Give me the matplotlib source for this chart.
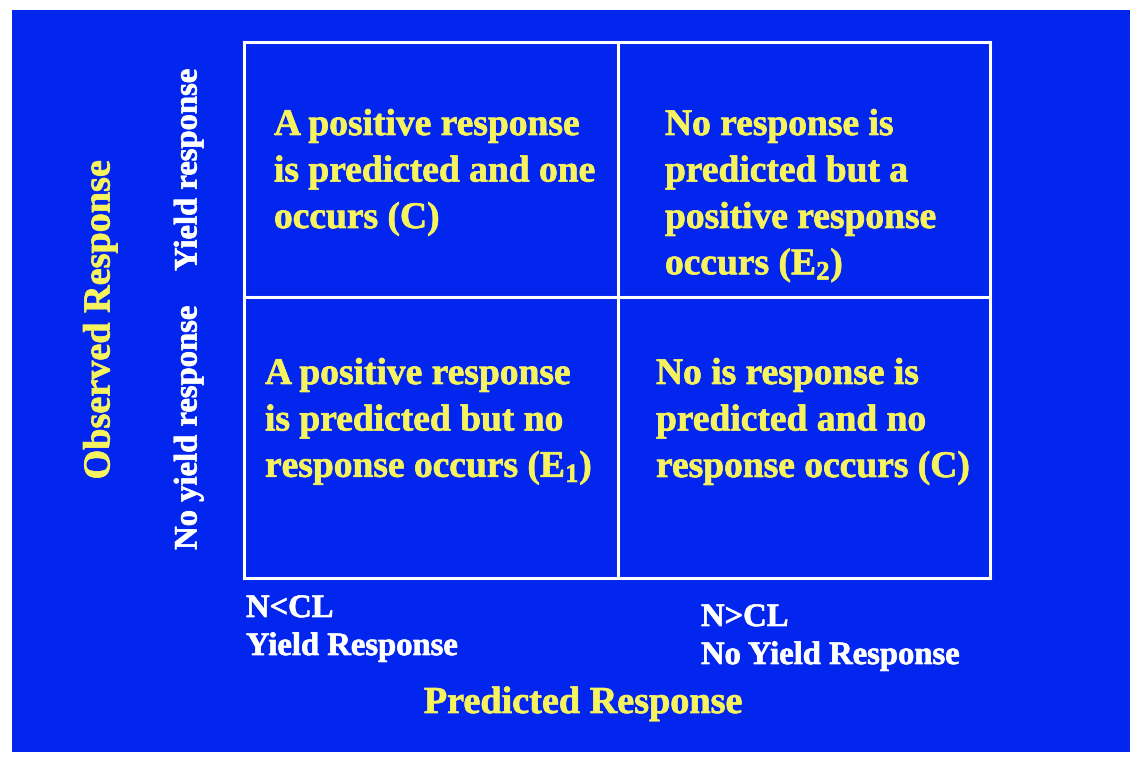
import matplotlib
matplotlib.use('Agg')
import matplotlib.pyplot as plt
import matplotlib.patheffects as pe
from matplotlib.patches import Rectangle

plt.rcParams['font.family'] = ['Liberation Serif', 'DejaVu Serif']
plt.rcParams['font.weight'] = 'bold'
plt.rcParams['mathtext.fontset'] = 'custom'
plt.rcParams['mathtext.rm'] = 'Liberation Serif:bold'
plt.rcParams['mathtext.bf'] = 'Liberation Serif:bold'
plt.rcParams['mathtext.it'] = 'Liberation Serif:bold:italic'

BLUE = '#0326EE'
YELLOW = '#F6F35E'

# cell texts, (column, row) with row 1 = top
cell_text = [
    'A positive response\nis predicted and one\noccurs (C)',
    'No response is\npredicted but a\npositive response\noccurs (E$_\\mathbf{2}$)',
    'A positive response\nis predicted but no\nresponse occurs (E$_\\mathbf{1}$)',
    'No is response is\npredicted and no\nresponse occurs (C)',
]

row_labels = ['No yield response', 'Yield response']
col_labels = ['N<CL\nYield Response', 'N>CL\nNo Yield Response']
x_title = 'Predicted Response'
y_title = 'Observed Response'

W, H = 1140, 762
L, R, T, B = 244, 990, 42, 578
MID_X, MID_Y = 618, 297

fig = plt.figure(figsize=(W/100, H/100), dpi=100)
fig.patch.set_facecolor('white')
bg = Rectangle((12/W, 10/H), 1118/W, 742/H, transform=fig.transFigure,
               facecolor=BLUE, edgecolor='none', zorder=-10)
fig.patches.append(bg)

ax = fig.add_axes([L/W, 1 - B/H, (R-L)/W, (B-T)/H])
ax.set_zorder(5)
ax.set_xlim(0, 1)
ax.set_ylim(0, 1)
ax.patch.set_alpha(0)
ax.set_xticks([])
ax.set_yticks([])
for s in ax.spines.values():
    s.set_color('white')
    s.set_linewidth(2.2)


def px(x, y):
    # pixel position in the picture -> axes fraction
    return (x - L) / (R - L), (B - y) / (B - T)


ax.axvline(px(MID_X, 0)[0], color='white', lw=2.2)
ax.axhline(px(0, MID_Y)[1], color='white', lw=2.2)

heavy = [pe.withStroke(linewidth=0.5, foreground=YELLOW)]
heavy_w = [pe.withStroke(linewidth=0.5, foreground='white')]

# left edge and first baseline of each cell text, in pixels
cell_x = [274, 665, 265, 656]
cell_y = [135, 135, 384, 384]
step = 46.5
for txt, x0, y0 in zip(cell_text, cell_x, cell_y):
    for k, line in enumerate(txt.split('\n')):
        ax.text(*px(x0, y0 + k * step), line, transform=ax.transAxes,
                color=YELLOW, fontsize=27, va='baseline', ha='left',
                path_effects=heavy)

row_y = [428, 170]
for lab, yc in zip(row_labels, row_y):
    ax.text(*px(188, yc), lab, transform=ax.transAxes, color='white',
            fontsize=23.5, rotation=90, va='center', ha='center',
            path_effects=heavy_w)

col_x = [246, 701]
col_y = [617, 626]
for lab, x0, y0 in zip(col_labels, col_x, col_y):
    for k, line in enumerate(lab.split('\n')):
        ax.text(*px(x0, y0 + k * 38), line, transform=ax.transAxes,
                color='white', fontsize=23.5, va='baseline', ha='left',
                path_effects=heavy_w)

ax.text(*px(583, 713), x_title, transform=ax.transAxes, color=YELLOW,
        fontsize=27.5, va='baseline', ha='center', path_effects=heavy)
ax.text(*px(100, 320), y_title, transform=ax.transAxes, color=YELLOW,
        fontsize=27.5, rotation=90, va='center', ha='center',
        path_effects=heavy)

fig.savefig('out.png', dpi=100)
